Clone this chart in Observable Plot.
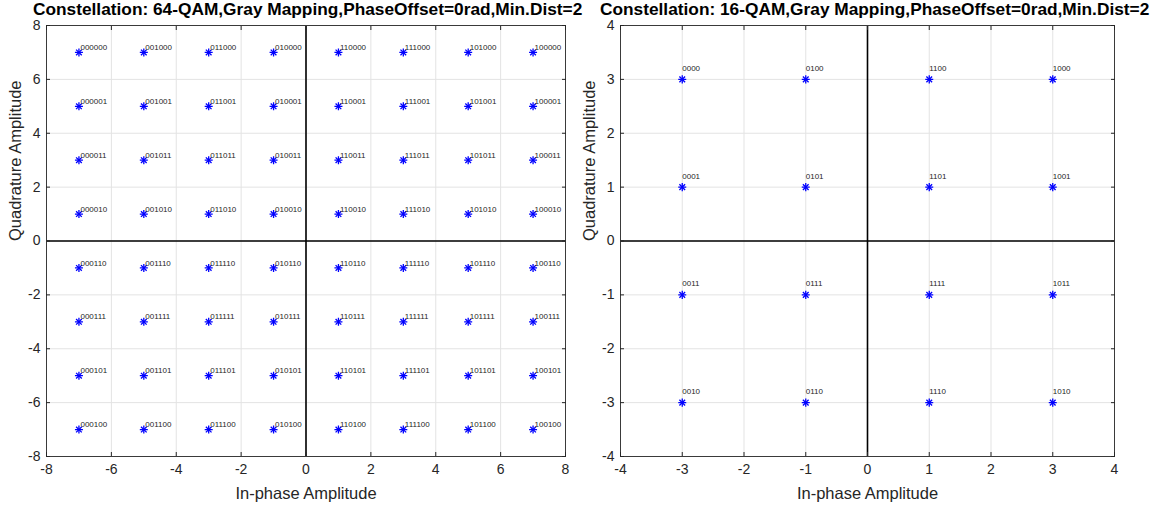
<!DOCTYPE html>
<html>
<head>
<meta charset="utf-8">
<script src="https://cdn.jsdelivr.net/npm/d3@7"></script>
<script src="https://cdn.jsdelivr.net/npm/@observablehq/plot@0.6"></script>
<style>
  html, body { margin: 0; padding: 0; background: white; overflow: hidden; }
  #wrap { position: relative; width: 1151px; height: 511px; overflow: hidden; }
  .panel { position: absolute; top: 0; }
  .title { position: absolute; top: -1px; white-space: nowrap; font-family: "Liberation Sans", Arial, sans-serif; font-weight: bold; font-size: 17.3px; color: #000; z-index: 5; }
</style>
</head>
<body>
<div id="wrap">
  <div id="p64" class="panel" style="left:0px"></div>
  <div id="p16" class="panel" style="left:575px"></div>
  <div class="title" id="t64" style="left:33px">Constellation: 64-QAM,Gray Mapping,PhaseOffset=0rad,Min.Dist=2</div>
  <div class="title" id="t16" style="left:600px">Constellation: 16-QAM,Gray Mapping,PhaseOffset=0rad,Min.Dist=2</div>
</div>
<script>
// ---- 64-QAM data ----
const iLevels64 = [-7, -5, -3, -1, 1, 3, 5, 7];
const qLevels64 = [7, 5, 3, 1, -1, -3, -5, -7];
const labels64 = [
  "000000","001000","011000","010000","110000","111000","101000","100000",
  "000001","001001","011001","010001","110001","111001","101001","100001",
  "000011","001011","011011","010011","110011","111011","101011","100011",
  "000010","001010","011010","010010","110010","111010","101010","100010",
  "000110","001110","011110","010110","110110","111110","101110","100110",
  "000111","001111","011111","010111","110111","111111","101111","100111",
  "000101","001101","011101","010101","110101","111101","101101","100101",
  "000100","001100","011100","010100","110100","111100","101100","100100"
];
const ticks64 = [-8, -6, -4, -2, 0, 2, 4, 6, 8];

// ---- 16-QAM data ----
const iLevels16 = [-3, -1, 1, 3];
const qLevels16 = [3, 1, -1, -3];
const labels16 = [
  "0000","0100","1100","1000",
  "0001","0101","1101","1001",
  "0011","0111","1111","1011",
  "0010","0110","1110","1010"
];
const ticks16 = [-4, -3, -2, -1, 0, 1, 2, 3, 4];

const xLabel = "In-phase Amplitude";
const yLabel = "Quadrature Amplitude";

function buildTable(iLv, qLv, labels) {
  return qLv.flatMap((q, r) => iLv.map((i, c) => ({i, q, label: labels[r * iLv.length + c]})));
}

const fmt = d => String(d);

function panel({data, ticks, width, ml, mr, mt, mb, labelDx, labelDy}) {
  const ext = [ticks[0], ticks[ticks.length - 1]];
  return Plot.plot({
    width, height: 511,
    marginLeft: ml, marginRight: mr, marginTop: mt, marginBottom: mb,
    style: {fontFamily: "Liberation Sans, Arial, sans-serif", fontSize: "14px", color: "#262626", background: "white"},
    x: {domain: ext, ticks: ticks},
    y: {domain: ext, ticks: ticks},
    marks: [
      Plot.gridX(ticks, {stroke: "#e3e3e3", strokeOpacity: 1}),
      Plot.gridY(ticks, {stroke: "#e3e3e3", strokeOpacity: 1}),
      Plot.ruleX([0], {stroke: "#000", strokeWidth: 1.6}),
      Plot.ruleY([0], {stroke: "#000", strokeWidth: 1.6}),
      Plot.frame({stroke: "#3a3a3a", strokeWidth: 1}),
      Plot.axisX(ticks, {anchor: "bottom", tickSize: -4, tickPadding: 12, label: null, tickFormat: fmt}),
      Plot.axisX(ticks, {anchor: "top", tickSize: -4, fill: "none", label: null}),
      Plot.axisY(ticks, {anchor: "left", tickSize: -4, tickPadding: 10, label: null, tickFormat: fmt}),
      Plot.axisY(ticks, {anchor: "right", tickSize: -4, fill: "none", label: null}),
      Plot.text([xLabel], {frameAnchor: "bottom", lineAnchor: "middle", dy: 37, text: d => d, fontSize: 16.5, fill: "#262626"}),
      Plot.text([yLabel], {frameAnchor: "left", lineAnchor: "middle", rotate: -90, dx: -31, text: d => d, fontSize: 16.5, fill: "#262626"}),
      Plot.dot(data, {x: "i", y: "q", symbol: "plus", r: 2.7, stroke: "#0000ff", strokeWidth: 1.3}),
      Plot.dot(data, {x: "i", y: "q", symbol: "times", r: 2.7, stroke: "#0000ff", strokeWidth: 1.3}),
      Plot.text(data, {x: "i", y: "q", text: "label", textAnchor: "start", lineAnchor: "middle", dx: labelDx, dy: labelDy, fontSize: 8, fill: "#262626"})
    ]
  });
}

document.getElementById("p64").append(panel({
  data: buildTable(iLevels64, qLevels64, labels64), ticks: ticks64,
  width: 575, ml: 46, mr: 10, mt: 25, mb: 55, labelDx: 1.5, labelDy: -5
}));
document.getElementById("p16").append(panel({
  data: buildTable(iLevels16, qLevels16, labels16), ticks: ticks16,
  width: 576, ml: 45, mr: 37, mt: 25, mb: 55, labelDx: 0, labelDy: -11
}));
</script>
</body>
</html>
